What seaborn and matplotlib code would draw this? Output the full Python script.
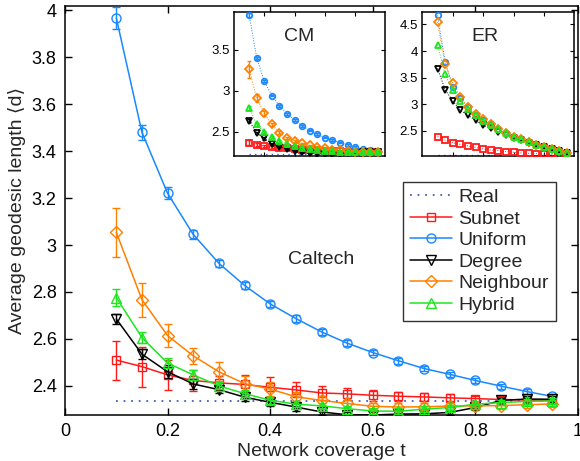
import matplotlib
matplotlib.use("Agg")
import matplotlib.pyplot as plt
import seaborn as sns

# ---------------- data ----------------
t = [0.1, 0.15, 0.2, 0.25, 0.3, 0.35, 0.4, 0.45, 0.5, 0.55,
     0.6, 0.65, 0.7, 0.75, 0.8, 0.85, 0.9, 0.95]

real_main = 2.336
subnet = [2.51, 2.482, 2.447, 2.423, 2.413, 2.406, 2.394, 2.383, 2.37, 2.366,
          2.36, 2.356, 2.353, 2.349, 2.346, 2.342, 2.34, 2.338]
subnet_err = [0.083, 0.085, 0.065, 0.045, 0.03, 0.04, 0.042, 0.032, 0.03, 0.025,
              0.024, 0.02, 0.018, 0.015, 0.013, 0.01, 0.008, 0.007]
uniform = [3.967, 3.48, 3.22, 3.045, 2.922, 2.828, 2.749, 2.687, 2.63, 2.582,
           2.542, 2.507, 2.474, 2.449, 2.423, 2.399, 2.376, 2.355]
uniform_err = [0.045, 0.032, 0.025, 0.018, 0.015, 0.014, 0.013, 0.013, 0.012, 0.012,
               0.012, 0.012, 0.011, 0.011, 0.011, 0.011, 0.011, 0.01]
degree = [2.685, 2.535, 2.46, 2.408, 2.384, 2.352, 2.33, 2.31, 2.289, 2.277,
          2.276, 2.28, 2.281, 2.287, 2.308, 2.338, 2.344, 2.343]
degree_err = [0.022, 0.02, 0.028, 0.02, 0.016, 0.015, 0.015, 0.015, 0.013, 0.012,
              0.012, 0.012, 0.012, 0.012, 0.012, 0.012, 0.012, 0.012]
neighbour = [3.054, 2.767, 2.614, 2.528, 2.46, 2.41, 2.386, 2.354, 2.338, 2.325,
             2.313, 2.31, 2.311, 2.314, 2.315, 2.316, 2.32, 2.323]
neighbour_err = [0.105, 0.073, 0.048, 0.035, 0.04, 0.03, 0.03, 0.02, 0.018, 0.016,
                 0.015, 0.015, 0.015, 0.015, 0.015, 0.015, 0.015, 0.015]
hybrid = [2.776, 2.606, 2.497, 2.447, 2.40, 2.367, 2.339, 2.322, 2.315, 2.303,
          2.293, 2.292, 2.301, 2.308, 2.322, 2.329, 2.334, 2.336]
hybrid_err = [0.035, 0.025, 0.02, 0.02, 0.015, 0.015, 0.015, 0.013, 0.012, 0.012,
              0.012, 0.012, 0.012, 0.012, 0.012, 0.012, 0.012, 0.012]

# CM inset
real_cm = 2.225
cm_subnet = [2.37, 2.345, 2.325, 2.315, 2.305, 2.298, 2.29, 2.285, 2.28, 2.275,
             2.27, 2.265, 2.262, 2.26, 2.258, 2.256, 2.255, 2.255]
cm_subnet_err = [0.03, 0.02, 0.015, 0.012, 0.01, 0.01, 0.01, 0.01, 0.01, 0.01,
                 0.01, 0.01, 0.01, 0.01, 0.01, 0.01, 0.01, 0.01]
cm_uniform = [3.92, 3.40, 3.115, 2.94, 2.815, 2.72, 2.64, 2.573, 2.516, 2.47,
              2.43, 2.40, 2.37, 2.34, 2.315, 2.295, 2.275, 2.255]
cm_uniform_err = [0.02, 0.015, 0.012, 0.01, 0.01, 0.01, 0.01, 0.01, 0.01, 0.01,
                  0.01, 0.01, 0.01, 0.01, 0.01, 0.01, 0.01, 0.01]
cm_degree = [2.635, 2.485, 2.42, 2.355, 2.32, 2.29, 2.265, 2.25, 2.24, 2.235,
             2.23, 2.23, 2.235, 2.24, 2.245, 2.25, 2.255, 2.255]
cm_degree_err = [0.02, 0.015, 0.015, 0.012, 0.01, 0.01, 0.01, 0.01, 0.01, 0.01,
                 0.01, 0.01, 0.01, 0.01, 0.01, 0.01, 0.01, 0.01]
cm_neighbour = [3.26, 2.91, 2.725, 2.59, 2.49, 2.425, 2.39, 2.36, 2.335, 2.315,
                2.30, 2.285, 2.275, 2.265, 2.26, 2.255, 2.25, 2.25]
cm_neighbour_err = [0.1, 0.05, 0.03, 0.02, 0.02, 0.015, 0.012, 0.01, 0.01, 0.01,
                    0.01, 0.01, 0.01, 0.01, 0.01, 0.01, 0.01, 0.01]
cm_hybrid = [2.79, 2.59, 2.495, 2.435, 2.39, 2.355, 2.325, 2.305, 2.29, 2.28,
             2.27, 2.265, 2.26, 2.26, 2.26, 2.26, 2.26, 2.26]
cm_hybrid_err = [0.02, 0.015, 0.012, 0.01, 0.01, 0.01, 0.01, 0.01, 0.01, 0.01,
                 0.01, 0.01, 0.01, 0.01, 0.01, 0.01, 0.01, 0.01]

# ER inset
real_er = 2.04
er_subnet = [2.39, 2.325, 2.275, 2.244, 2.213, 2.185, 2.155, 2.138, 2.125, 2.106,
             2.094, 2.081, 2.075, 2.07, 2.06, 2.056, 2.05, 2.045]
er_uniform = [4.67, 3.80, 3.32, 3.12, 2.94, 2.80, 2.71, 2.62, 2.53, 2.45,
              2.39, 2.335, 2.28, 2.235, 2.195, 2.155, 2.12, 2.075]
er_degree = [3.67, 3.275, 3.06, 2.89, 2.79, 2.70, 2.606, 2.544, 2.48, 2.42,
             2.37, 2.325, 2.275, 2.23, 2.19, 2.156, 2.12, 2.075]
er_neighbour = [4.54, 3.76, 3.39, 3.14, 2.95, 2.806, 2.72, 2.625, 2.53, 2.45,
                2.39, 2.34, 2.28, 2.24, 2.20, 2.156, 2.12, 2.075]
er_hybrid = [4.12, 3.56, 3.26, 3.056, 2.906, 2.794, 2.69, 2.61, 2.525, 2.45,
             2.39, 2.34, 2.28, 2.23, 2.19, 2.156, 2.12, 2.075]

series_names = ["Real", "Subnet", "Uniform", "Degree", "Neighbour", "Hybrid"]
xticks = [0, 0.2, 0.4, 0.6, 0.8, 1]
xticklabels = ["0", "0.2", "0.4", "0.6", "0.8", "1"]
yticks = [2.4, 2.6, 2.8, 3.0, 3.2, 3.4, 3.6, 3.8, 4.0]
yticklabels = ["2.4", "2.6", "2.8", "3", "3.2", "3.4", "3.6", "3.8", "4"]
cm_yticks = [2.5, 3.0, 3.5]
cm_yticklabels = ["2.5", "3", "3.5"]
er_yticks = [2.5, 3.0, 3.5, 4.0, 4.5]
er_yticklabels = ["2.5", "3", "3.5", "4", "4.5"]

# ---------------- style ----------------
sns.set_theme(style="ticks")
plt.rcParams["font.family"] = ["Liberation Sans", "DejaVu Sans"]
plt.rcParams["axes.linewidth"] = 1.1
plt.rcParams["xtick.direction"] = "in"
plt.rcParams["ytick.direction"] = "in"

C_REAL = "#4a5cc0"
C_SUB = "#ff1a1a"
C_UNI = "#1a88ff"
C_DEG = "#000000"
C_NEI = "#ff8000"
C_HYB = "#1ee61e"

fig = plt.figure(figsize=(5.8, 4.61), dpi=100)
ax = fig.add_axes([65 / 580, 46 / 461, 513 / 580, 409 / 461])


def draw(a, y, err, color, marker, ms, lw, ls, mew, cap, elw, zorder):
    sns.lineplot(x=t, y=y, ax=a, color=color, marker=marker, markersize=ms,
                 markerfacecolor="none", markeredgecolor=color,
                 markeredgewidth=mew, linewidth=lw, linestyle=ls,
                 estimator=None, sort=False, legend=False, zorder=zorder)
    line = a.lines[-1]
    if err is not None:
        a.errorbar(t, y, yerr=err, fmt="none", ecolor=color, elinewidth=elw,
                   capsize=cap, capthick=elw, zorder=zorder)
    return line


handles = []
sns.lineplot(x=t, y=[real_main] * len(t), ax=ax, color=C_REAL,
             linestyle=(0, (1, 3.2)), linewidth=1.3, estimator=None, legend=False)
handles.append(ax.lines[-1])
main_specs = [
    (subnet, subnet_err, C_SUB, "s", 6),
    (uniform, uniform_err, C_UNI, "o", 6.5),
    (degree, degree_err, C_DEG, "v", 7),
    (neighbour, neighbour_err, C_NEI, "D", 6),
    (hybrid, hybrid_err, C_HYB, "^", 7),
]
for i, (y, e, c, m, ms) in enumerate(main_specs):
    handles.append(draw(ax, y, e, c, m, ms, 1.1, "-", 1.0, 3, 1.0, 3 + i))

ax.set_xlim(0, 1)
ax.set_ylim(2.276, 4.018)
ax.set_xticks(xticks)
ax.set_xticklabels(xticklabels)
ax.set_yticks(yticks)
ax.set_yticklabels(yticklabels)
ax.tick_params(axis="both", which="both", direction="in", length=5, width=1,
               top=True, right=True, labelsize=13, pad=6, colors="black")
ax.set_xlabel("Network coverage t", fontsize=14, labelpad=2)
ax.set_ylabel("Average geodesic length \u27e8d\u27e9", fontsize=14, labelpad=4)
for s in ax.spines.values():
    s.set_color("black")
    s.set_linewidth(1.1)
ax.text(0.434, 2.94, "Caltech", fontsize=14, ha="left", va="center")

leg = ax.legend(handles, series_names, loc="upper left",
                bbox_to_anchor=(0.659, 0.570), borderaxespad=0, fontsize=14,
                frameon=True, fancybox=False, shadow=False, handlelength=2.15,
                handletextpad=0.35, labelspacing=0.2, borderpad=0.35)
leg.get_frame().set_edgecolor("black")
leg.get_frame().set_linewidth(1.0)

# ---------------- insets ----------------
def inset(rect, specs, real_val, ylim, ytk, ytl, title, tx):
    a = fig.add_axes(rect)
    a.set_facecolor("white")
    sns.lineplot(x=t, y=[real_val] * len(t), ax=a, color=C_REAL,
                 linestyle=(0, (1, 3)), linewidth=1.0, estimator=None, legend=False)
    for i, (y, e, c, m) in enumerate(specs):
        draw(a, y, e, c, m, 4, 0.7, ":", 1.3, 1.5, 1.0, 3 + i)
    a.set_xlim(0, 1)
    a.set_ylim(*ylim)
    a.set_xticks([0.2, 0.4, 0.6, 0.8])
    a.set_xticklabels([])
    a.set_yticks(ytk)
    a.set_yticklabels(ytl)
    a.tick_params(axis="both", direction="in", length=3, width=0.8,
                  top=True, right=True, labelsize=9.5, pad=3, colors="black")
    for s in a.spines.values():
        s.set_color("black")
        s.set_linewidth(1.1)
    a.text(tx, 0.83, title, transform=a.transAxes, fontsize=14,
           ha="center", va="center")
    return a


cm_specs = [
    (cm_subnet, cm_subnet_err, C_SUB, "s"),
    (cm_uniform, cm_uniform_err, C_UNI, "o"),
    (cm_degree, cm_degree_err, C_DEG, "v"),
    (cm_neighbour, cm_neighbour_err, C_NEI, "D"),
    (cm_hybrid, cm_hybrid_err, C_HYB, "^"),
]
er_specs = [
    (er_subnet, None, C_SUB, "s"),
    (er_uniform, None, C_UNI, "o"),
    (er_degree, None, C_DEG, "v"),
    (er_neighbour, None, C_NEI, "D"),
    (er_hybrid, None, C_HYB, "^"),
]
inset([234 / 580, 1 - 155.7 / 461, 151.4 / 580, 144 / 461], cm_specs, real_cm,
      (2.21, 3.96), cm_yticks, cm_yticklabels, "CM", 0.43)
inset([422.3 / 580, 1 - 155.7 / 461, 152 / 580, 144 / 461], er_specs, real_er,
      (2.03, 4.74), er_yticks, er_yticklabels, "ER", 0.41)

fig.savefig("out.png", dpi=100)
